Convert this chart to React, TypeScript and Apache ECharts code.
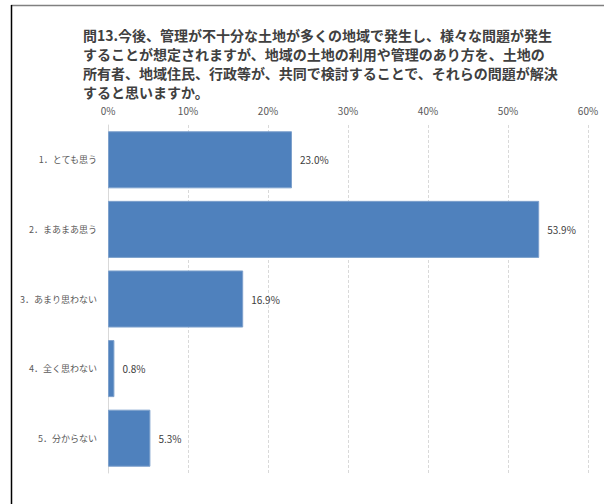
import React, { useEffect, useRef } from "react";
import * as echarts from "echarts";

const titleLines = [
  "問13.今後、管理が不十分な土地が多くの地域で発生し、様々な問題が発生",
  "することが想定されますが、地域の土地の利用や管理のあり方を、土地の",
  "所有者、地域住民、行政等が、共同で検討することで、それらの問題が解決",
  "すると思いますか。",
];
const categories = ["1．とても思う", "2．まあまあ思う", "3．あまり思わない", "4．全く思わない", "5．分からない"];
const values = [23.0, 53.9, 16.9, 0.8, 5.3];
const FONT = "'Noto Sans CJK JP', 'Noto Sans', sans-serif";

export default function App() {
  const ref = useRef<HTMLDivElement>(null);
  useEffect(() => {
    const chart = echarts.init(ref.current!, null, { renderer: "svg" });
    chart.setOption({
      animation: false,
      backgroundColor: "#ffffff",
      textStyle: { fontFamily: FONT },
      title: {
        text: titleLines.join("\n"),
        left: 78,
        top: 20,
        textStyle: { fontSize: 14, fontWeight: "bold", color: "#404040", lineHeight: 19, fontFamily: FONT },
      },
      graphic: [
        { type: "line", shape: { x1: 11, y1: 5.5, x2: 604, y2: 5.5 }, style: { stroke: "#808080", lineWidth: 1.5 } },
        { type: "line", shape: { x1: 11.5, y1: 5, x2: 11.5, y2: 504 }, style: { stroke: "#000000", lineWidth: 1.5 } },
      ],
      grid: { left: 108, right: 16, top: 125, bottom: 31, containLabel: false },
      xAxis: {
        type: "value",
        position: "top",
        min: 0,
        max: 60,
        interval: 10,
        axisLabel: { formatter: "{value}%", color: "#595959", fontSize: 10, margin: 10 },
        axisLine: { show: false },
        axisTick: { show: false },
        splitLine: { show: true, lineStyle: { color: "#d9d9d9", type: [3, 2] } },
      },
      yAxis: {
        type: "category",
        data: categories,
        inverse: true,
        axisLine: { show: true, lineStyle: { color: "#d9d9d9" } },
        axisTick: { show: false },
        axisLabel: { color: "#595959", fontSize: 9, margin: 11 },
      },
      series: [
        {
          type: "bar",
          data: values,
          barCategoryGap: "18%",
          itemStyle: { color: "#4f81bd", borderColor: "#7ea1cc", borderWidth: 1 },
          label: {
            show: true,
            position: "right",
            distance: 8,
            formatter: (p: any) => p.value.toFixed(1) + "%",
            color: "#404040",
            fontSize: 10,
          },
        },
      ],
    });
    return () => chart.dispose();
  }, []);
  return <div ref={ref} style={{ position: "absolute", left: 0, top: 0, width: 604, height: 504 }} />;
}
